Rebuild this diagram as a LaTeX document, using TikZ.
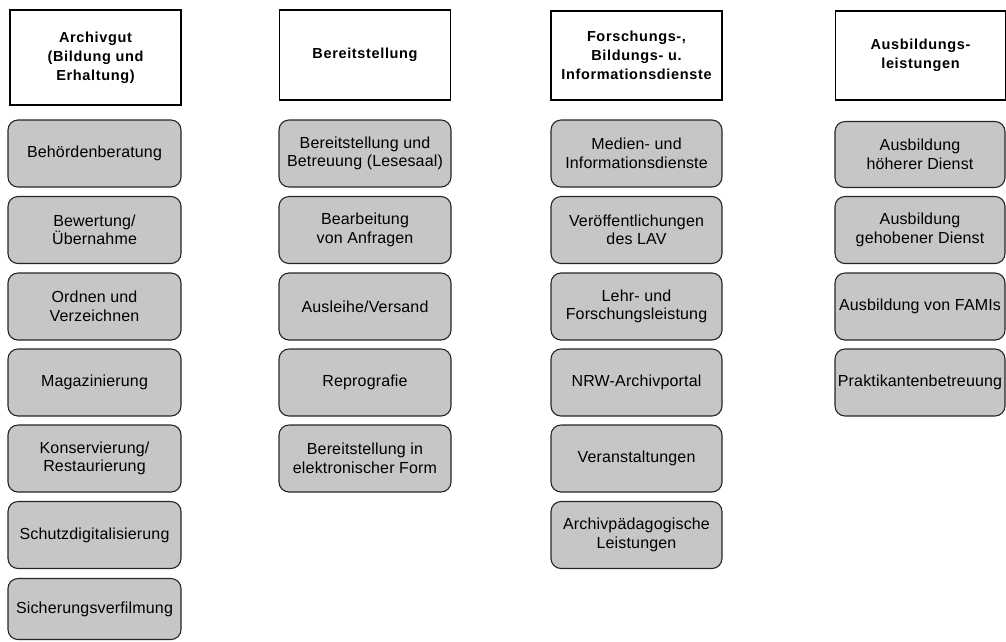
\documentclass[tikz,border=0pt]{standalone}
\usepackage{fontspec}
\setmainfont{Liberation Sans}
\newfontfamily\bodyfont{Liberation Sans}[LetterSpace=1]
\newfontfamily\hdrfont{Liberation Sans}[LetterSpace=4.5]
\definecolor{boxgray}{HTML}{C6C6C6}
\begin{document}
\begin{tikzpicture}[x=1pt,y=-1pt,
  hdr/.style={draw=black, line width=1.2pt, fill=white, inner sep=0pt,
    align=center, font=\hdrfont\bfseries\fontsize{14.5}{19}\selectfont},
  itm/.style={draw=black!85, line width=1.1pt, fill=boxgray, rounded corners=10pt,
    inner sep=0pt, align=center, font=\bodyfont\fontsize{16}{18.5}\selectfont}]
\useasboundingbox (0,0) rectangle (1006,641);
% headers
\node[hdr, minimum width=171pt, minimum height=95pt] (h1) at (95.5,57.5) {Archivgut\\(Bildung und\\Erhaltung)};
\node[hdr, minimum width=171pt, minimum height=90pt] (h2) at (365,55) {Bereitstellung};
\node[hdr, minimum width=171pt, minimum height=89pt] (h3) at (636.5,55.5) {Forschungs-,\\Bildungs- u.\\Informationsdienste};
\node[hdr, minimum width=170pt, minimum height=89pt] (h4) at (920.5,55.5) {Ausbildungs-\\leistungen};
% column 1
\node[itm, minimum width=173pt, minimum height=67pt] (a1) at (94.5,153.5) {Behördenberatung};
\node[itm, minimum width=173pt, minimum height=67pt] (a2) at (94.5,230) {Bewertung/\\Übernahme};
\node[itm, minimum width=173pt, minimum height=67pt] (a3) at (94.5,306.5) {Ordnen und\\Verzeichnen};
\node[itm, minimum width=173pt, minimum height=67pt] (a4) at (94.5,382.5) {Magazinierung};
\node[itm, minimum width=173pt, minimum height=67pt] (a5) at (94.5,458.5) {Konservierung/\\Restaurierung};
\node[itm, minimum width=173pt, minimum height=67pt] (a6) at (94.5,535) {Schutzdigitalisierung};
\node[itm, minimum width=173pt, minimum height=61pt] (a7) at (94.5,609) {Sicherungsverfilmung};
% column 2
\node[itm, minimum width=172pt, minimum height=67pt] (b1) at (365,153.5) {Bereitstellung und\\Betreuung (Lesesaal)};
\node[itm, minimum width=172pt, minimum height=67pt] (b2) at (365,230) {Bearbeitung\\von Anfragen};
\node[itm, minimum width=172pt, minimum height=67pt] (b3) at (365,306.5) {Ausleihe/Versand};
\node[itm, minimum width=172pt, minimum height=67pt] (b4) at (365,382.5) {Reprografie};
\node[itm, minimum width=172pt, minimum height=67pt] (b5) at (365,458.5) {Bereitstellung in\\elektronischer Form};
% column 3
\node[itm, minimum width=171pt, minimum height=67pt] (c1) at (636.5,153.5) {Medien- und\\Informationsdienste};
\node[itm, minimum width=171pt, minimum height=67pt] (c2) at (636.5,230) {Veröffentlichungen\\des LAV};
\node[itm, minimum width=171pt, minimum height=67pt] (c3) at (636.5,306.5) {Lehr- und\\Forschungsleistung};
\node[itm, minimum width=171pt, minimum height=67pt] (c4) at (636.5,382.5) {NRW-Archivportal};
\node[itm, minimum width=171pt, minimum height=67pt] (c5) at (636.5,458.5) {Veranstaltungen};
\node[itm, minimum width=171pt, minimum height=67pt] (c6) at (636.5,535) {Archivpädagogische\\Leistungen};
% column 4
\node[itm, minimum width=170pt, minimum height=66pt] (d1) at (920,154.5) {Ausbildung\\höherer Dienst};
\node[itm, minimum width=170pt, minimum height=67pt] (d2) at (920,230) {Ausbildung\\gehobener Dienst};
\node[itm, minimum width=170pt, minimum height=67pt] (d3) at (920,306.5) {Ausbildung von FAMIs};
\node[itm, minimum width=170pt, minimum height=67pt] (d4) at (920,382.5) {Praktikantenbetreuung};
\end{tikzpicture}
\end{document}
